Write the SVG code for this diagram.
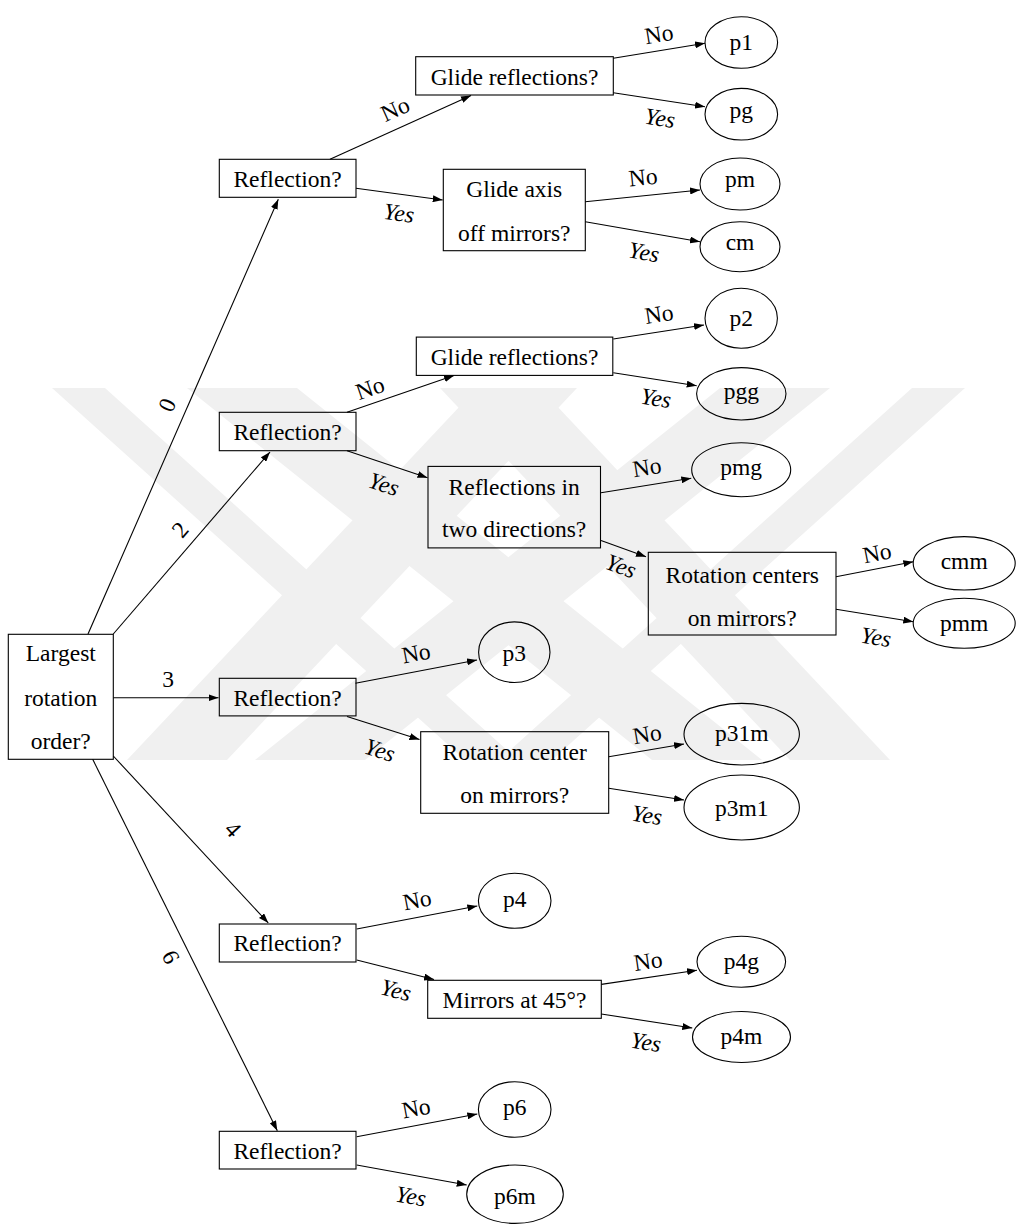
<svg xmlns="http://www.w3.org/2000/svg" width="1017" height="1225" viewBox="0 0 1017 1225">
<style>
.box{fill:none;stroke:#000;stroke-width:1.1}
.t{font-family:"Liberation Serif","Times New Roman",serif;font-size:23.5px;text-anchor:middle;fill:#000}
.y{font-style:italic}
.e{stroke:#000;stroke-width:1.1;fill:none;marker-end:url(#arr)}
.wm{fill:#f0f0f0}
</style>
<defs>
<marker id="arr" markerUnits="userSpaceOnUse" markerWidth="10" markerHeight="7" refX="10" refY="3.5" orient="auto">
<path d="M0,0 L10,3.5 L0,7 Z" fill="#000"/>
</marker>
</defs>
<rect width="1017" height="1225" fill="#fff"/>

<g id="watermark">
<polygon class="wm" points="52,388 105,388 518,760 465,760"/>
<polygon class="wm" points="912,388 965,388 552,760 499,760"/>
<polygon class="wm" points="187,388 297,388 762,760 652,760"/>
<polygon class="wm" points="720,388 830,388 365,760 255,760"/>
<polygon class="wm" points="477,388 577,388 227,760 127,760"/>
<polygon class="wm" points="440,388 540,388 890,760 790,760"/>
</g>

<g id="connectors">
<path class="e" d="M88,634 L278.3,199.3"/>
<path class="e" d="M113.3,634 L270,452"/>
<path class="e" d="M113.3,697.7 L218.5,697.7"/>
<path class="e" d="M113.3,756 L268.3,923"/>
<path class="e" d="M92.7,759.3 L277.3,1130.7"/>
<path class="e" d="M330,159.3 L471,95.5"/>
<path class="e" d="M356,188.3 L442.7,200"/>
<path class="e" d="M613.3,58.3 L705,43.3"/>
<path class="e" d="M613.3,92.7 L705,106.7"/>
<path class="e" d="M585.3,201.7 L700,190"/>
<path class="e" d="M585.3,221.7 L700,241.7"/>
<path class="e" d="M347,412.3 L454,375.4"/>
<path class="e" d="M613.3,339 L704,325"/>
<path class="e" d="M613.3,372.7 L696.7,385.7"/>
<path class="e" d="M347,450.7 L427.5,477.7"/>
<path class="e" d="M601,492.7 L691.3,478.3"/>
<path class="e" d="M601,540.5 L646,556.8"/>
<path class="e" d="M836,576.7 L913.3,561.7"/>
<path class="e" d="M836,609.3 L913.3,621.7"/>
<path class="e" d="M355.4,683.2 L477,660"/>
<path class="e" d="M347,716.4 L419.5,739.6"/>
<path class="e" d="M608.7,756.7 L684,744"/>
<path class="e" d="M608.7,788.3 L684,800"/>
<path class="e" d="M356.7,929 L477.3,906"/>
<path class="e" d="M356.7,960 L434,979.5"/>
<path class="e" d="M601.3,984.4 L697,970.3"/>
<path class="e" d="M601.3,1014 L692.3,1028"/>
<path class="e" d="M356.7,1136.7 L477.3,1114"/>
<path class="e" d="M356.7,1165 L466.7,1185"/>
</g>

<g id="edge-labels">
<text class="t" transform="translate(167 405) rotate(-66.4)" y="8">0</text>
<text class="t" transform="translate(180 529.5) rotate(-49.4)" y="8">2</text>
<text class="t" x="168" y="687">3</text>
<text class="t" transform="translate(233 829) rotate(47)" y="8">4</text>
<text class="t" transform="translate(171 957) rotate(63.7)" y="8">6</text>
<text class="t" transform="translate(395 109) rotate(-24.1)" y="8">No</text>
<text class="t y" transform="translate(399 213) rotate(7.9)" y="8">Yes</text>
<text class="t" transform="translate(659 34) rotate(-9.3)" y="8">No</text>
<text class="t y" transform="translate(660 118) rotate(8.7)" y="8">Yes</text>
<text class="t" transform="translate(643 177) rotate(-5.8)" y="8">No</text>
<text class="t y" transform="translate(644 252) rotate(9.7)" y="8">Yes</text>
<text class="t" transform="translate(370 388) rotate(-18.9)" y="8">No</text>
<text class="t" transform="translate(659 314) rotate(-8.7)" y="8">No</text>
<text class="t y" transform="translate(656 398) rotate(8.8)" y="8">Yes</text>
<text class="t y" transform="translate(384 484) rotate(18.6)" y="8">Yes</text>
<text class="t" transform="translate(647 467) rotate(-9.1)" y="8">No</text>
<text class="t y" transform="translate(621 566) rotate(20.4)" y="8">Yes</text>
<text class="t" transform="translate(877 553) rotate(-11)" y="8">No</text>
<text class="t y" transform="translate(876 637) rotate(9.1)" y="8">Yes</text>
<text class="t" transform="translate(416 653) rotate(-10.7)" y="8">No</text>
<text class="t y" transform="translate(380 750) rotate(17.9)" y="8">Yes</text>
<text class="t" transform="translate(647 734) rotate(-9.6)" y="8">No</text>
<text class="t y" transform="translate(647 815) rotate(8.8)" y="8">Yes</text>
<text class="t" transform="translate(417 900) rotate(-10.8)" y="8">No</text>
<text class="t y" transform="translate(396 990) rotate(14.3)" y="8">Yes</text>
<text class="t" transform="translate(648 961) rotate(-8.3)" y="8">No</text>
<text class="t y" transform="translate(646 1042) rotate(8.7)" y="8">Yes</text>
<text class="t" transform="translate(416 1108) rotate(-10.7)" y="8">No</text>
<text class="t y" transform="translate(411 1196) rotate(10.3)" y="8">Yes</text>
</g>

<g id="root"><rect class="box" x="8.3" y="634.3" width="105" height="125"/>
<text class="t" x="60.8" y="661">Largest</text><text class="t" x="60.8" y="706">rotation</text><text class="t" x="60.8" y="749">order?</text></g>

<g id="refl0"><rect class="box" x="219.3" y="159.3" width="136.7" height="38"/><text class="t" x="287.6" y="186.8">Reflection?</text></g>
<g id="refl2"><rect class="box" x="219.3" y="412.3" width="136.7" height="38.4"/><text class="t" x="287.6" y="440">Reflection?</text></g>
<g id="refl3"><rect class="box" x="219.3" y="678.3" width="136.7" height="37.6"/><text class="t" x="287.6" y="705.6">Reflection?</text></g>
<g id="refl4"><rect class="box" x="219.3" y="924" width="136.7" height="38"/><text class="t" x="287.6" y="951.4">Reflection?</text></g>
<g id="refl6"><rect class="box" x="219.3" y="1131.3" width="136.7" height="37.7"/><text class="t" x="287.6" y="1158.6">Reflection?</text></g>

<g id="glide0"><rect class="box" x="415.7" y="56.7" width="197.6" height="38.3"/><text class="t" x="514.5" y="85">Glide reflections?</text></g>
<g id="glideaxis"><rect class="box" x="443.3" y="169.3" width="142" height="81.4"/><text class="t" x="514.3" y="197.3">Glide axis</text><text class="t" x="514.3" y="240.5">off mirrors?</text></g>
<g id="glide2"><rect class="box" x="416.3" y="337.1" width="196.5" height="38.3"/><text class="t" x="514.5" y="365.3">Glide reflections?</text></g>
<g id="twodir"><rect class="box" x="428" y="466.4" width="172.5" height="81.5"/><text class="t" x="514.2" y="495.3">Reflections in</text><text class="t" x="514.2" y="537.3">two directions?</text></g>
<g id="rotcenters"><rect class="box" x="648.3" y="552.3" width="187.7" height="82.7"/><text class="t" x="742.2" y="582.5">Rotation centers</text><text class="t" x="742.2" y="625.5">on mirrors?</text></g>
<g id="rotcenter"><rect class="box" x="420.7" y="731.7" width="188" height="81.6"/><text class="t" x="514.7" y="760">Rotation center</text><text class="t" x="514.7" y="803.2">on mirrors?</text></g>
<g id="mirrors45"><rect class="box" x="427.7" y="980.3" width="173.6" height="38"/><text class="t" x="514.5" y="1007.5">Mirrors at 45°?</text></g>

<g id="p1"><ellipse class="box" cx="741.3" cy="42.5" rx="36.3" ry="25.8"/><text class="t" x="741.3" y="50">p1</text></g>
<g id="pg"><ellipse class="box" cx="741.3" cy="114.2" rx="36.3" ry="25.8"/><text class="t" x="741.3" y="117.5">pg</text></g>
<g id="pm"><ellipse class="box" cx="740" cy="184" rx="40" ry="26"/><text class="t" x="740" y="187">pm</text></g>
<g id="cm"><ellipse class="box" cx="740" cy="246.7" rx="40" ry="25"/><text class="t" x="740" y="250">cm</text></g>
<g id="p2"><ellipse class="box" cx="741.2" cy="318.3" rx="36.2" ry="30"/><text class="t" x="741.2" y="326">p2</text></g>
<g id="pgg"><ellipse class="box" cx="741.3" cy="393.8" rx="44.7" ry="26.2"/><text class="t" x="741.3" y="399">pgg</text></g>
<g id="pmg"><ellipse class="box" cx="741.2" cy="469.7" rx="49.5" ry="27"/><text class="t" x="741.2" y="475">pmg</text></g>
<g id="cmm"><ellipse class="box" cx="964.2" cy="563.3" rx="51" ry="26.7"/><text class="t" x="964.2" y="569">cmm</text></g>
<g id="pmm"><ellipse class="box" cx="964.2" cy="623.3" rx="51" ry="25"/><text class="t" x="964.2" y="631">pmm</text></g>
<g id="p3"><ellipse class="box" cx="514.3" cy="652.2" rx="35.7" ry="30.3"/><text class="t" x="514.3" y="661">p3</text></g>
<g id="p31m"><ellipse class="box" cx="741.7" cy="734.2" rx="57.7" ry="30.8"/><text class="t" x="741.7" y="741">p31m</text></g>
<g id="p3m1"><ellipse class="box" cx="741.7" cy="807.5" rx="57.7" ry="32.5"/><text class="t" x="741.7" y="816">p3m1</text></g>
<g id="p4"><ellipse class="box" cx="514.7" cy="900.8" rx="36.3" ry="27.5"/><text class="t" x="514.7" y="907">p4</text></g>
<g id="p4g"><ellipse class="box" cx="741.3" cy="961.7" rx="44.3" ry="25.5"/><text class="t" x="741.3" y="968.5">p4g</text></g>
<g id="p4m"><ellipse class="box" cx="741.5" cy="1037" rx="49" ry="25.5"/><text class="t" x="741.5" y="1044">p4m</text></g>
<g id="p6"><ellipse class="box" cx="514.7" cy="1109.5" rx="36.3" ry="27.8"/><text class="t" x="514.7" y="1115">p6</text></g>
<g id="p6m"><ellipse class="box" cx="515" cy="1194.2" rx="48.3" ry="29.2"/><text class="t" x="515" y="1203.5">p6m</text></g>
</svg>
